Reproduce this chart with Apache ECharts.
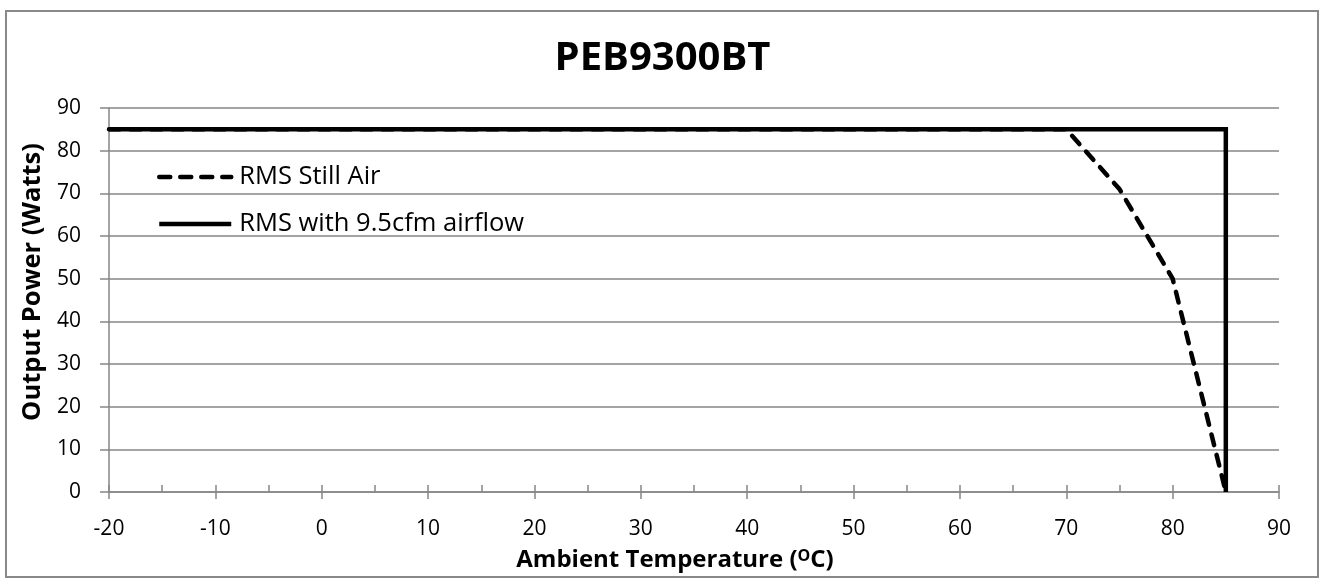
<!DOCTYPE html>
<html>
<head>
<meta charset="utf-8">
<script src="https://cdn.jsdelivr.net/npm/echarts@6/dist/echarts.min.js"></script>
<style>html,body{margin:0;padding:0;background:#fff}#c{width:1325px;height:583px}</style>
</head>
<body>
<div id="c"></div>
<script>
const titleText = 'PEB9300BT';
const seriesNames = ['RMS Still Air', 'RMS with 9.5cfm airflow'];
const stillAirTemp = [-20, 70, 75, 80, 85];
const stillAirPower = [85, 85, 71, 50, 0];
const airflowTemp = [-20, 85, 85];
const airflowPower = [85, 85, 0];
const xMin = -20, xMax = 90, xStep = 10;
const yMin = 0, yMax = 90, yStep = 10;

const FONT = '"Open Sans", "Noto Sans", sans-serif';
const GRAY = '#868686';

const chart = echarts.init(document.getElementById('c'), null, {renderer: 'canvas'});
const grid = {left: 109, right: 46, top: 108, bottom: 91};
chart.setOption({
  backgroundColor: '#fff',
  animation: false,
  title: {
    text: titleText, left: 'center', top: 34,
    textStyle: {fontFamily: FONT, fontSize: 40, fontWeight: 'bold', color: '#000'}
  },
  legend: {
    orient: 'vertical', left: 152, top: 159, itemGap: 21,
    itemWidth: 72, itemHeight: 14,
    itemStyle: {color: 'transparent', borderColor: 'transparent', borderWidth: 0, opacity: 0},
    lineStyle: {width: 4.5},
    textStyle: {fontFamily: FONT, fontSize: 25.5, lineHeight: 26, color: '#000', padding: [0, 0, 0, 3]},
    data: seriesNames
  },
  grid: grid,
  xAxis: [{
    type: 'value', min: xMin, max: xMax, interval: xStep,
    axisLine: {show: true, onZero: false, lineStyle: {color: GRAY, width: 1.5}},
    axisTick: {show: true, inside: false, length: 7, lineStyle: {color: GRAY, width: 1.5}},
    axisLabel: {fontFamily: FONT, fontSize: 21, color: '#000', margin: 27},
    splitLine: {show: false},
    name: 'Ambient Temperature ({sup|O}C)',
    nameLocation: 'middle', nameGap: 56,
    nameTextStyle: {
      fontFamily: FONT, fontSize: 24, fontWeight: 'bold', color: '#000', padding: [0, 38, 0, 0],
      rich: {sup: {fontFamily: FONT, fontSize: 16, fontWeight: 'bold', color: '#000', verticalAlign: 'top', padding: [0, 0, 9, 0]}}
    }
  }, {
    type: 'value', min: xMin, max: xMax, interval: xStep, position: 'bottom',
    axisLine: {show: false, onZero: false},
    axisTick: {show: true, inside: true, length: 7, lineStyle: {color: GRAY, width: 1.5}},
    minorTick: {show: true, splitNumber: 2, length: 7, lineStyle: {color: GRAY, width: 1.5}},
    axisLabel: {show: false},
    splitLine: {show: false}
  }],
  yAxis: {
    type: 'value', min: yMin, max: yMax, interval: yStep,
    axisLine: {show: true, onZero: false, lineStyle: {color: GRAY, width: 1.5}},
    axisTick: {show: true, inside: false, length: 9, lineStyle: {color: GRAY, width: 1.5}},
    axisLabel: {fontFamily: FONT, fontSize: 21, color: '#000', margin: 28},
    splitLine: {show: true, lineStyle: {color: GRAY, width: 1.5}},
    name: 'Output Power (Watts)',
    nameLocation: 'middle', nameRotate: 90, nameGap: 60,
    nameTextStyle: {fontFamily: FONT, fontSize: 25.5, fontWeight: 'bold', color: '#000', padding: [0, 0, 0, 36]}
  },
  graphic: [{
    type: 'rect', z: -1, silent: true,
    shape: {x: 6, y: 11, width: 1312, height: 566},
    style: {fill: null, stroke: '#898989', lineWidth: 2}
  }],
  series: [{
    name: seriesNames[0], type: 'line', xAxisIndex: 0, showSymbol: false, symbol: 'none',
    data: stillAirTemp.map((t, i) => [t, stillAirPower[i]]),
    lineStyle: {color: '#000', width: 4.5, type: [11, 10], cap: 'round', join: 'round'},
    itemStyle: {color: '#000'}
  }, {
    name: seriesNames[1], type: 'line', xAxisIndex: 0, showSymbol: false, symbol: 'none',
    data: airflowTemp.map((t, i) => [t, airflowPower[i]]),
    lineStyle: {color: '#000', width: 4.5, type: 'solid', join: 'miter'},
    itemStyle: {color: '#000'}
  }]
});
</script>
</body>
</html>
